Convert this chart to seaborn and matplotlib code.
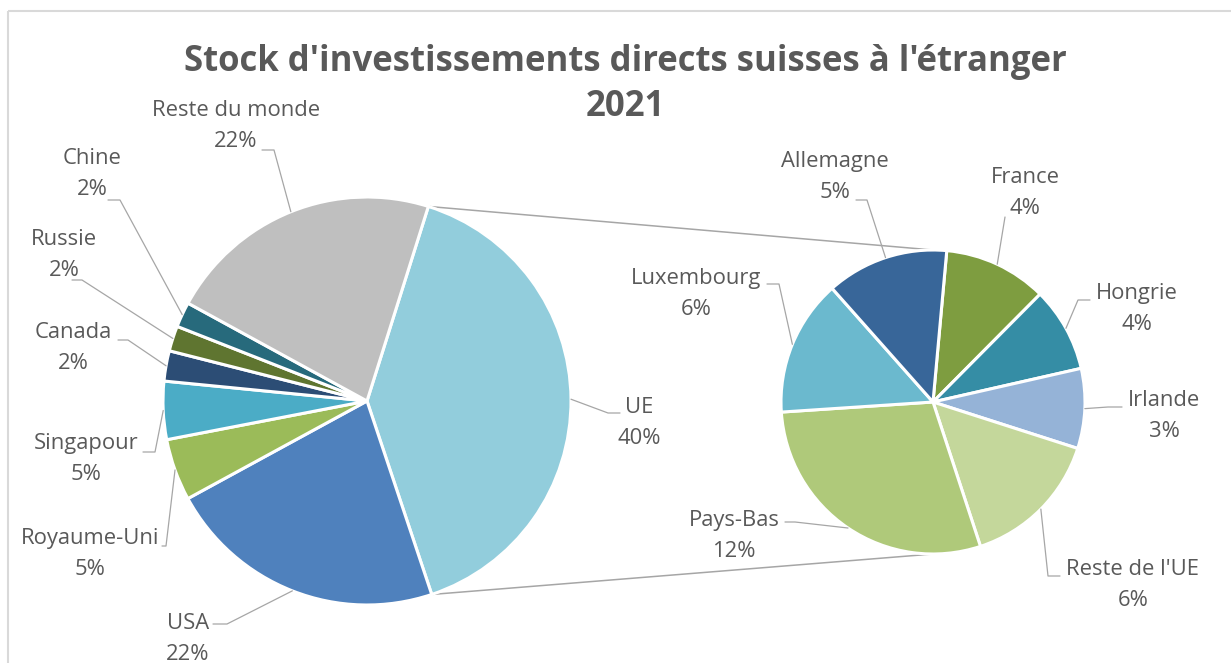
import numpy as np
import matplotlib
matplotlib.use("Agg")
import matplotlib.pyplot as plt
from matplotlib.patches import Rectangle
import seaborn as sns

# main pie (share of total, %)
main_labels = ["UE", "USA", "Royaume-Uni", "Singapour", "Canada", "Russie", "Chine", "Reste du monde"]
main_values = [40.0, 22.2, 4.9, 4.6, 2.4, 2.0, 2.0, 21.9]
main_colors = ["#92CDDC", "#4F81BD", "#9BBB59", "#4BACC6", "#2C4D75", "#5F7530", "#276A7C", "#BFBFBF"]

# breakdown of the UE slice (share of total, %)
ue_labels = ["France", "Hongrie", "Irlande", "Reste de l'UE", "Pays-Bas", "Luxembourg", "Allemagne"]
ue_values = [4.4, 3.6, 3.4, 6.0, 11.6, 5.8, 5.2]
ue_colors = ["#7E9D40", "#358DA5", "#95B3D7", "#C4D79B", "#AFC97A", "#6BB9CE", "#386699"]

title_lines = ["Stock d'investissements directs suisses à l'étranger", "2021"]

# layout in pixels (y downwards): text centre, leader start, leader elbow
label_pos = {
    "UE": ((639, 423), (620, 413), (608, 413)),
    "USA": ((188, 639), (213, 624), (227, 624)),
    "Royaume-Uni": ((90, 554), (162, 546), (166, 546)),
    "Singapour": ((86, 459), (143, 452), (155, 452)),
    "Canada": ((73, 348), (118, 340), (128, 340)),
    "Russie": ((64, 255), (72, 280), (82, 280)),
    "Chine": ((92, 174), (108, 200), (120, 200)),
    "Reste du monde": ((236, 126), (262, 150), (274, 150)),
    "France": ((1025, 193), (1005, 217), (1005, 217)),
    "Hongrie": ((1137, 309), (1090, 300), (1078, 300)),
    "Irlande": ((1164, 416), (1122, 407), (1108, 407)),
    "Reste de l'UE": ((1133, 585), (1060, 576), (1048, 576)),
    "Pays-Bas": ((734, 536), (785, 522), (795, 522)),
    "Luxembourg": ((696, 294), (767, 284), (779, 284)),
    "Allemagne": ((835, 177), (856, 200), (867, 200)),
}

main_center, main_r = (367, 401), 204
ue_center, ue_r = (933, 402), 152

text_color = "#595959"
line_color = "#A6A6A6"

sns.set_theme(style="white")
plt.rcParams['font.family'] = ['Open Sans', 'DejaVu Sans']

fig = plt.figure(figsize=(12.31, 6.63), dpi=100)
ax = fig.add_axes([0, 0, 1, 1])

wedge_style = dict(edgecolor="white", linewidth=2.2)
# y axis is inverted below, so counterclock=True turns clockwise on screen
main_wedges, _ = ax.pie(main_values, colors=main_colors, center=main_center, radius=main_r,
                        startangle=-72.5, counterclock=True, wedgeprops=wedge_style, normalize=True)
ue_wedges, _ = ax.pie(ue_values, colors=ue_colors, center=ue_center, radius=ue_r,
                      startangle=-84.8, counterclock=True, wedgeprops=wedge_style, normalize=True)

ax.set_xlim(0, 1231)
ax.set_ylim(663, 0)
ax.set_aspect("equal")
ax.axis("off")


def edge_point(w):
    a = np.deg2rad((w.theta1 + w.theta2) / 2)
    return w.center[0] + w.r * np.cos(a), w.center[1] + w.r * np.sin(a)


def draw_labels(wedges, names, values):
    for w, name, v in zip(wedges, names, values):
        (tx, ty), p0, p1 = label_pos[name]
        ex, ey = edge_point(w)
        ax.plot([p0[0], p1[0], ex], [p0[1], p1[1], ey], color=line_color, lw=0.9, zorder=1)
        ax.text(tx, ty, f"{name}\n{round(v)}%", ha="center", va="center", fontsize=15.8,
                color=text_color, linespacing=1.62)


draw_labels(main_wedges, main_labels, main_values)
draw_labels(ue_wedges, ue_labels, ue_values)

# connector lines between the UE slice and the second pie
ue_w = main_wedges[0]
for ang, y2 in [(ue_w.theta1, ue_center[1] - ue_r), (ue_w.theta2, ue_center[1] + ue_r)]:
    a = np.deg2rad(ang)
    x1 = main_center[0] + main_r * np.cos(a)
    y1 = main_center[1] + main_r * np.sin(a)
    ax.plot([x1, ue_center[0]], [y1, y2], color=line_color, lw=1.1, zorder=0)

for line, ty in zip(title_lines, [62, 107]):
    ax.text(625, ty, line, ha="center", va="center", fontsize=25, fontweight="bold",
            color=text_color)

ax.add_patch(Rectangle((7.5, 10.5), 1400, 800, fill=False, edgecolor="#D9D9D9", lw=1.5, clip_on=False))

plt.savefig("out.png", dpi=100)
